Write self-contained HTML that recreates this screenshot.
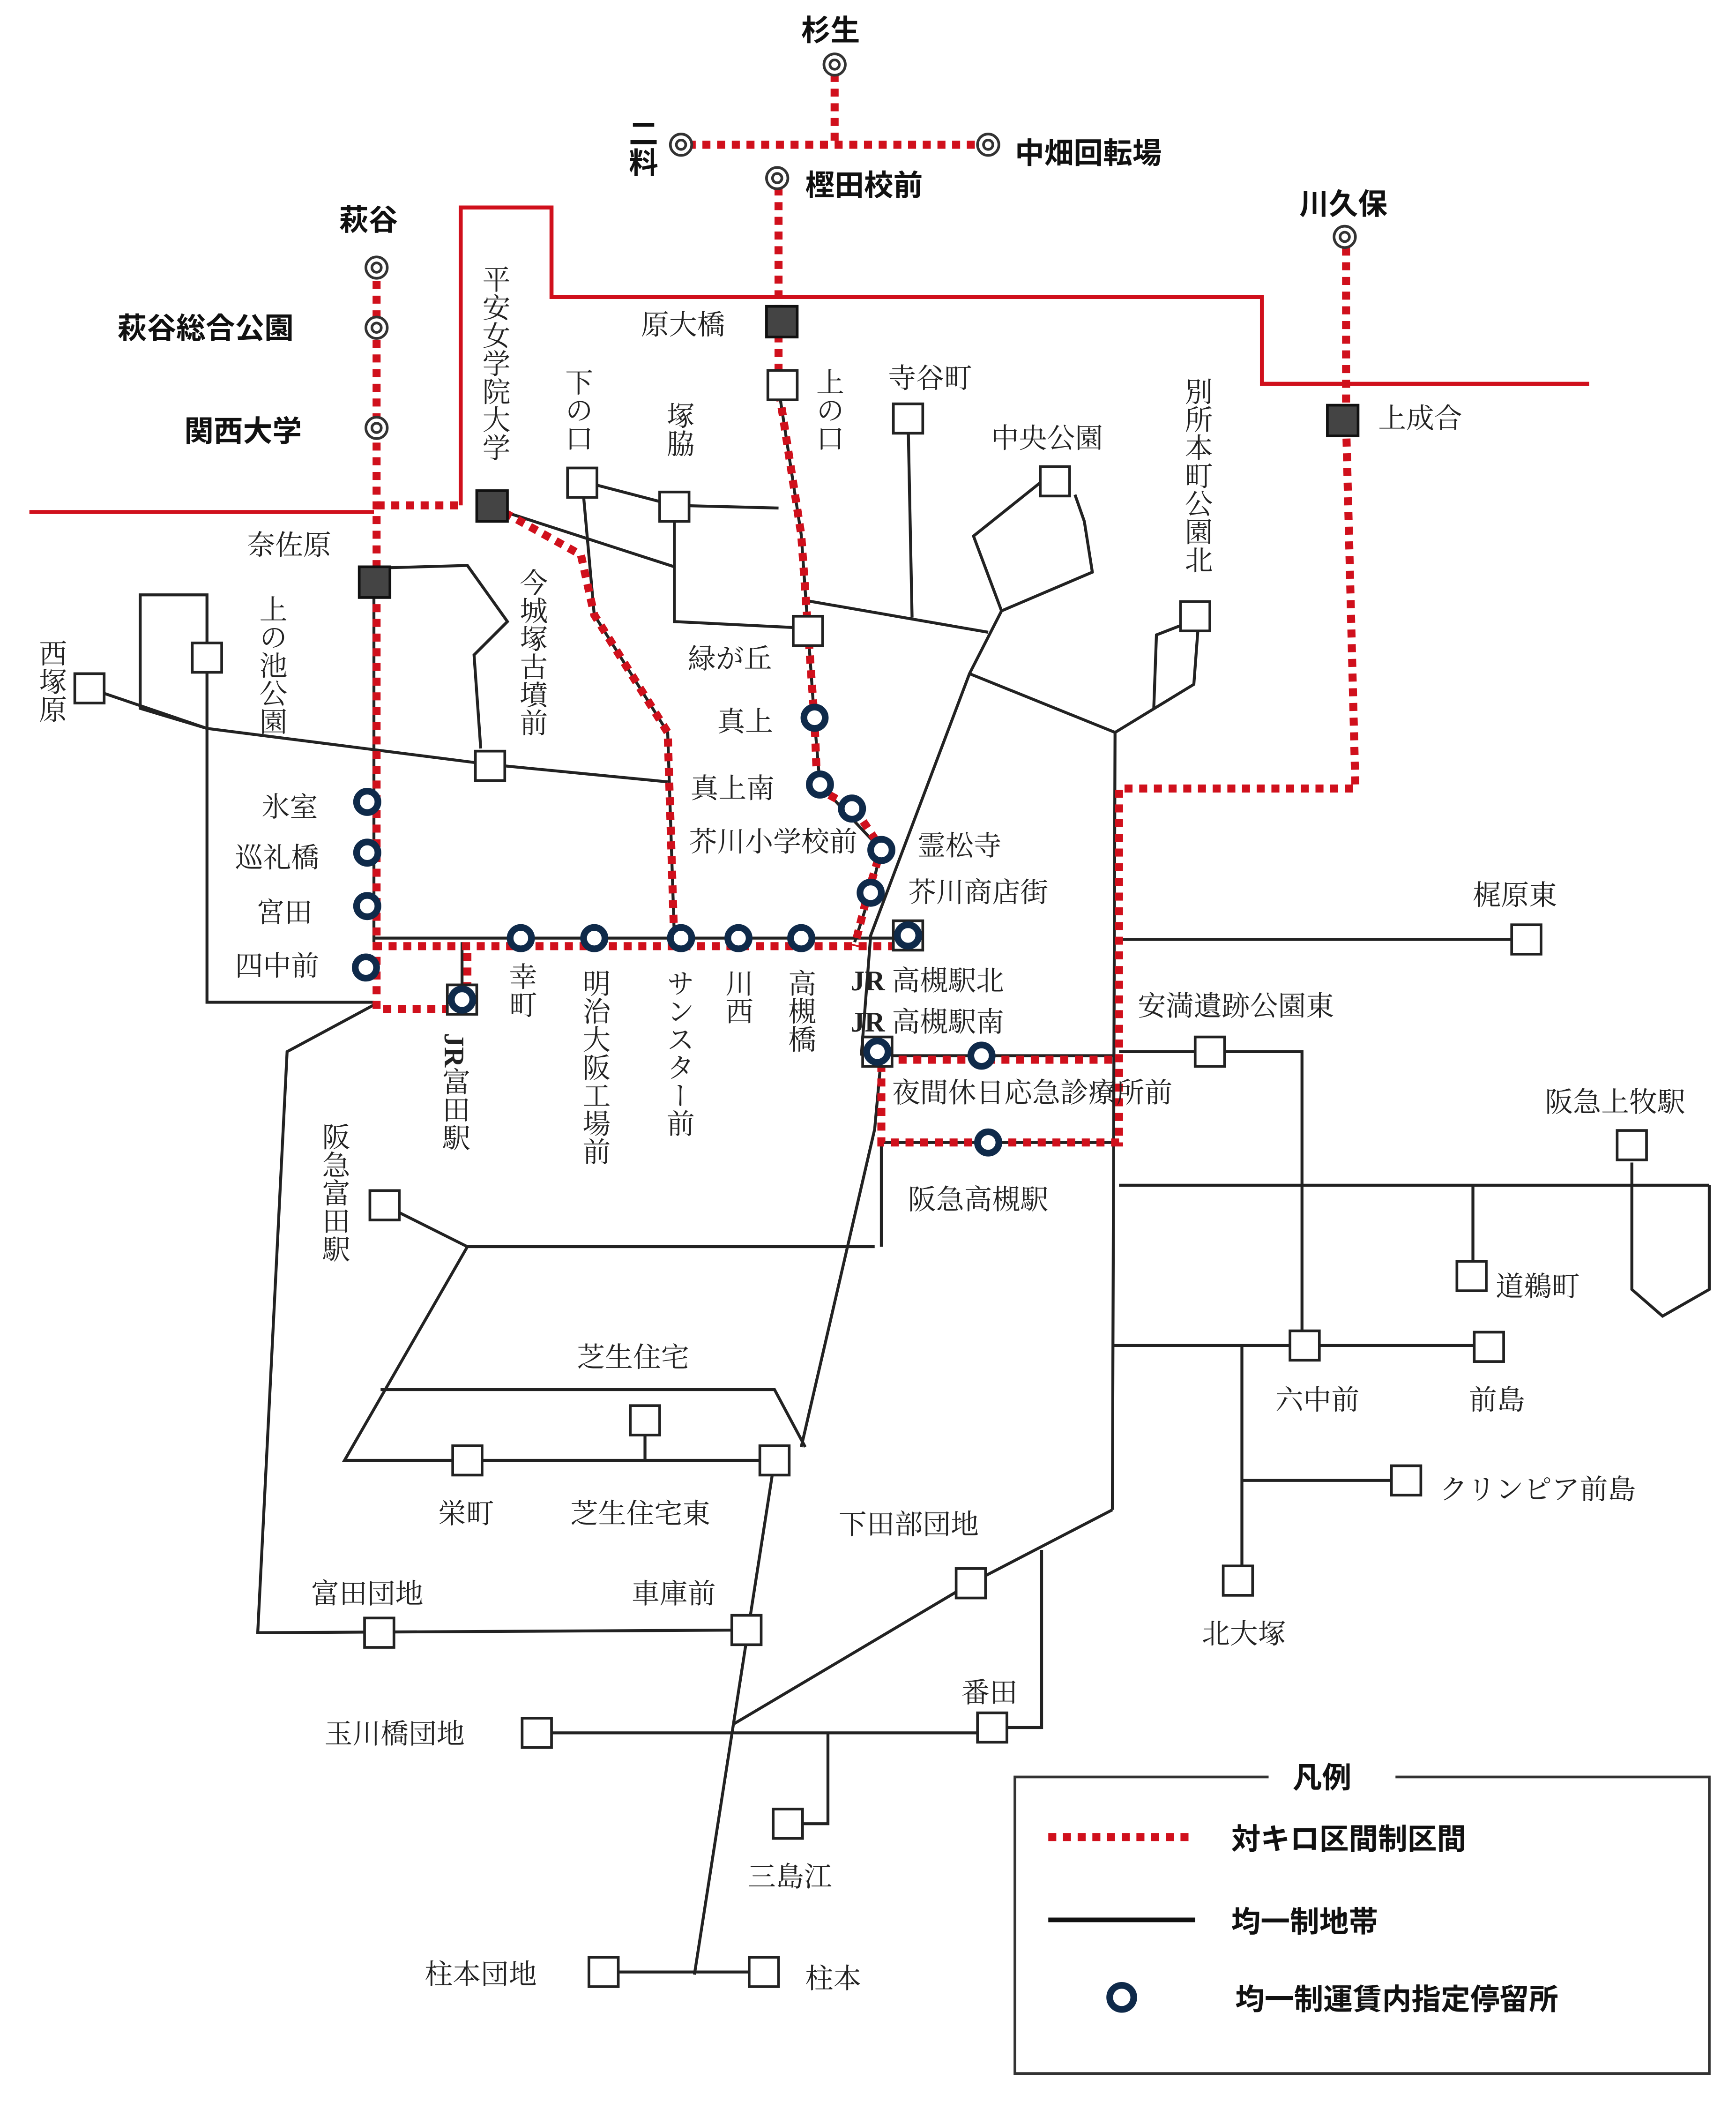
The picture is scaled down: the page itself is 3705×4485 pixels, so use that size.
<!DOCTYPE html>
<html><head><meta charset="utf-8"><style>
html,body{margin:0;padding:0;background:#fff}
svg{display:block}
text{font-family:"Liberation Serif","Noto Serif CJK SC",serif;fill:#222;font-size:21px}
.b{font-family:"Liberation Sans","Noto Sans CJK JP",sans-serif;font-weight:bold;font-size:22px;fill:#111}
.v{writing-mode:vertical-rl;glyph-orientation-vertical:0}
.k{stroke:#222;stroke-width:2.2;fill:none}
.r{stroke:#d0101c;stroke-width:3;fill:none}
.d{stroke:#d0101c;stroke-width:6;stroke-dasharray:6 5;fill:none}
.sq{fill:#fff;stroke:#222;stroke-width:2}
.fs{fill:#444;stroke:#111;stroke-width:2}
.c{fill:#fff;stroke:#0f2a4a;stroke-width:5}
.dc{fill:#fff;stroke:#333;stroke-width:2}
</style></head><body>
<svg width="3705" height="4485" viewBox="0 0 1300 1573" xmlns="http://www.w3.org/2000/svg">
<polyline class="r" points="22,383 280,383"/>
<polyline class="r" points="345,378 345,155 413,155 413,222 945,222 945,287 1190,287"/>
<g class="k">
<polyline points="280,425 350,423 380,465 355,490 360,560"/>
<polyline points="67,515 155,545 367,572 500,585"/>
<polyline points="155,492 155,445 105,445 105,530 155,545"/>
<polyline points="155,500 155,750 280,750"/>
<polyline points="436,360 445,460 500,548 505,702"/>
<polyline points="436,360 505,378 583,380"/>
<polyline points="505,378 505,465 605,470"/>
<polyline points="369,380 505,424"/>
<polyline points="602,449 740,473"/>
<polyline points="680,313 683,462"/>
<polyline points="779,361 729,401 750,457 818,428 812,390 805,370"/>
<polyline points="750,457 726,504 652,700 645,790"/>
<polyline points="726,504 835,548 833,1130"/>
<polyline points="884,468 866,475 864,530"/>
<polyline points="897,472 894,512 835,548"/>
<polyline points="280,702 680,702"/>
<polyline points="583,290 600,400 605,470 610,540 614,587 660,636 652,668 640,705"/>
<polyline points="280,435 280,705"/>
<polyline points="838,703 1143,703"/>
<polyline points="838,787 975,787 975,1007"/>
<polyline points="838,887 1280,887"/>
<polyline points="1103,887 1103,955"/>
<polyline points="1222,870 1222,965 1245,985 1280,965 1280,887"/>
<polyline points="833,1007 1115,1007"/>
<polyline points="930,1007 930,1172"/>
<polyline points="930,1108 1053,1108"/>
<polyline points="833,1130 727,1185 550,1290"/>
<polyline points="780,1160 780,1293 743,1293"/>
<polyline points="400,1297 743,1297"/>
<polyline points="620,1297 620,1365 590,1365"/>
<polyline points="580,1093 520,1478"/>
<polyline points="452,1476 572,1476"/>
<polyline points="280,752 215,787 193,1222 560,1220"/>
<polyline points="288,902 350,933 655,933"/>
<polyline points="350,933 258,1093 580,1093"/>
<polyline points="285,1040 580,1040 603,1083"/>
<polyline points="483,1063 483,1093"/>
<polyline points="600,1083 655,845 660,790"/>
<polyline points="660,855 660,933"/>
<polyline points="660,790 838,790"/>
<polyline points="660,855 838,855"/>
<polyline points="346,705 346,748"/>
</g>
<g class="d">
<polyline points="625,55 625,108"/>
<polyline points="515,108 735,108"/>
<polyline points="583,140 583,290 600,400 605,470 610,540 612,590 640,605 660,635 650,668 640,708"/>
<polyline points="282,210 282,755 350,755 350,708"/>
<polyline points="282,378 345,378"/>
<polyline points="368,378 435,415 445,460 500,548 505,708"/>
<polyline points="280,708 680,708"/>
<polyline points="1008,185 1008,315 1015,590 838,590 838,855 660,855 660,793 838,793"/>
</g>
<g class="sq">
<rect x="575" y="277" width="22" height="22"/>
<rect x="425" y="350" width="22" height="22"/>
<rect x="494" y="368" width="22" height="22"/>
<rect x="669" y="302" width="22" height="22"/>
<rect x="779" y="349" width="22" height="22"/>
<rect x="594" y="461" width="22" height="22"/>
<rect x="884" y="450" width="22" height="22"/>
<rect x="144" y="481" width="22" height="22"/>
<rect x="56" y="504" width="22" height="22"/>
<rect x="356" y="562" width="22" height="22"/>
<rect x="1132" y="692" width="22" height="22"/>
<rect x="895" y="776" width="22" height="22"/>
<rect x="1211" y="846" width="22" height="22"/>
<rect x="277" y="891" width="22" height="22"/>
<rect x="1091" y="944" width="22" height="22"/>
<rect x="966" y="996" width="22" height="22"/>
<rect x="1104" y="997" width="22" height="22"/>
<rect x="472" y="1052" width="22" height="22"/>
<rect x="339" y="1082" width="22" height="22"/>
<rect x="569" y="1082" width="22" height="22"/>
<rect x="1042" y="1097" width="22" height="22"/>
<rect x="916" y="1172" width="22" height="22"/>
<rect x="716" y="1174" width="22" height="22"/>
<rect x="273" y="1211" width="22" height="22"/>
<rect x="548" y="1209" width="22" height="22"/>
<rect x="732" y="1282" width="22" height="22"/>
<rect x="391" y="1286" width="22" height="22"/>
<rect x="579" y="1354" width="22" height="22"/>
<rect x="441" y="1465" width="22" height="22"/>
<rect x="561" y="1465" width="22" height="22"/>
<rect x="669" y="689" width="22" height="22"/>
<rect x="335" y="737" width="22" height="22"/>
<rect x="646" y="776" width="22" height="22"/>
</g>
<g class="fs">
<rect x="574" y="229" width="23" height="23"/>
<rect x="994" y="303" width="23" height="23"/>
<rect x="357" y="367" width="23" height="23"/>
<rect x="269" y="424" width="23" height="23"/>
</g>
<g class="c">
<circle cx="610" cy="537" r="8"/><circle cx="614" cy="587" r="8"/><circle cx="638" cy="605" r="8"/>
<circle cx="660" cy="636" r="8"/><circle cx="652" cy="668" r="8"/><circle cx="680" cy="700" r="8"/>
<circle cx="275" cy="600" r="8"/><circle cx="275" cy="638" r="8"/><circle cx="275" cy="678" r="8"/>
<circle cx="274" cy="724" r="8"/><circle cx="346" cy="748" r="8"/>
<circle cx="390" cy="702" r="8"/><circle cx="445" cy="702" r="8"/><circle cx="510" cy="702" r="8"/>
<circle cx="553" cy="702" r="8"/><circle cx="600" cy="702" r="8"/>
<circle cx="657" cy="787" r="8"/><circle cx="735" cy="790" r="8"/><circle cx="740" cy="855" r="8"/>
</g>
<g class="dc">
<circle cx="625" cy="48" r="8"/><circle cx="625" cy="48" r="3.5"/>
<circle cx="510" cy="108" r="8"/><circle cx="510" cy="108" r="3.5"/>
<circle cx="740" cy="108" r="8"/><circle cx="740" cy="108" r="3.5"/>
<circle cx="582" cy="133" r="8"/><circle cx="582" cy="133" r="3.5"/>
<circle cx="282" cy="200" r="8"/><circle cx="282" cy="200" r="3.5"/>
<circle cx="282" cy="245" r="8"/><circle cx="282" cy="245" r="3.5"/>
<circle cx="282" cy="320" r="8"/><circle cx="282" cy="320" r="3.5"/>
<circle cx="1007" cy="177" r="8"/><circle cx="1007" cy="177" r="3.5"/>
</g>
<text class="b" x="600" y="30">杉生</text>
<text class="b v" x="480" y="88">二料</text>
<text class="b" x="760" y="122">中畑回転場</text>
<text class="b" x="603" y="146">樫田校前</text>
<text class="b" x="254" y="172">萩谷</text>
<text class="b" x="88" y="253">萩谷総合公園</text>
<text class="b" x="138" y="330">関西大学</text>
<text class="b" x="973" y="160">川久保</text>
<text x="480" y="250" font-size="18">原大橋</text>
<text x="1032" y="320" font-size="18">上成合</text>
<text class="v" x="370" y="198" font-size="18">平安女学院大学</text>
<text class="v" x="432" y="275" font-size="18">下の口</text>
<text class="v" x="508" y="300">塚脇</text>
<text class="v" x="620" y="275" font-size="18">上の口</text>
<text x="665" y="290" font-size="18">寺谷町</text>
<text x="742" y="335" font-size="18">中央公園</text>
<text class="v" x="896" y="282" font-size="18">別所本町公園北</text>
<text x="185" y="415" font-size="18">奈佐原</text>
<text class="v" x="398" y="425" font-size="18">今城塚古墳前</text>
<text class="v" x="203" y="445" font-size="18">上の池公園</text>
<text class="v" x="38" y="478" font-size="18">西塚原</text>
<text x="515" y="500" font-size="18">緑が丘</text>
<text x="537" y="547">真上</text>
<text x="517" y="597">真上南</text>
<text x="516" y="637" font-size="17">芥川小学校前</text>
<text x="687" y="640">霊松寺</text>
<text x="680" y="675">芥川商店街</text>
<text x="196" y="611">氷室</text>
<text x="176" y="649">巡礼橋</text>
<text x="192" y="690">宮田</text>
<text x="176" y="730">四中前</text>
<text class="v" x="390" y="720">幸町</text>
<text class="v" x="445" y="725">明治大阪工場前</text>
<text class="v" x="508" y="725">サンスター前</text>
<text class="v" x="552" y="725">川西</text>
<text class="v" x="599" y="725">高槻橋</text>
<text x="637" y="741"><tspan font-weight="bold">JR</tspan> 高槻駅北</text>
<text x="637" y="772"><tspan font-weight="bold">JR</tspan> 高槻駅南</text>
<text class="v" x="340" y="773"><tspan font-weight="bold">JR</tspan>富田駅</text>
<text x="1103" y="677">梶原東</text>
<text x="852" y="760" font-size="19">安満遺跡公園東</text>
<text x="668" y="825" font-size="18">夜間休日応急診療所前</text>
<text x="1157" y="832">阪急上牧駅</text>
<text x="680" y="905">阪急高槻駅</text>
<text class="v" x="250" y="840">阪急富田駅</text>
<text x="1120" y="970">道鵜町</text>
<text x="955" y="1055">六中前</text>
<text x="1100" y="1055">前島</text>
<text x="1078" y="1122">クリンピア前島</text>
<text x="432" y="1023">芝生住宅</text>
<text x="328" y="1140">栄町</text>
<text x="427" y="1140">芝生住宅東</text>
<text x="628" y="1148">下田部団地</text>
<text x="900" y="1230">北大塚</text>
<text x="233" y="1200">富田団地</text>
<text x="473" y="1200">車庫前</text>
<text x="720" y="1274">番田</text>
<text x="243" y="1305">玉川橋団地</text>
<text x="560" y="1412">三島江</text>
<text x="318" y="1485">柱本団地</text>
<text x="603" y="1488">柱本</text>
<rect x="760" y="1330" width="520" height="222" fill="#fff" stroke="#333" stroke-width="2"/>
<rect x="950" y="1318" width="95" height="24" fill="#fff"/>
<text class="b" x="968" y="1338">凡例</text>
<line class="d" x1="785" y1="1375" x2="895" y2="1375"/>
<text class="b" x="922" y="1384">対キロ区間制区間</text>
<line x1="785" y1="1437" x2="895" y2="1437" stroke="#111" stroke-width="3.5"/>
<text class="b" x="922" y="1446">均一制地帯</text>
<circle class="c" cx="840" cy="1495" r="9"/>
<text class="b" x="925" y="1504">均一制運賃内指定停留所</text>
</svg>
</body></html>
